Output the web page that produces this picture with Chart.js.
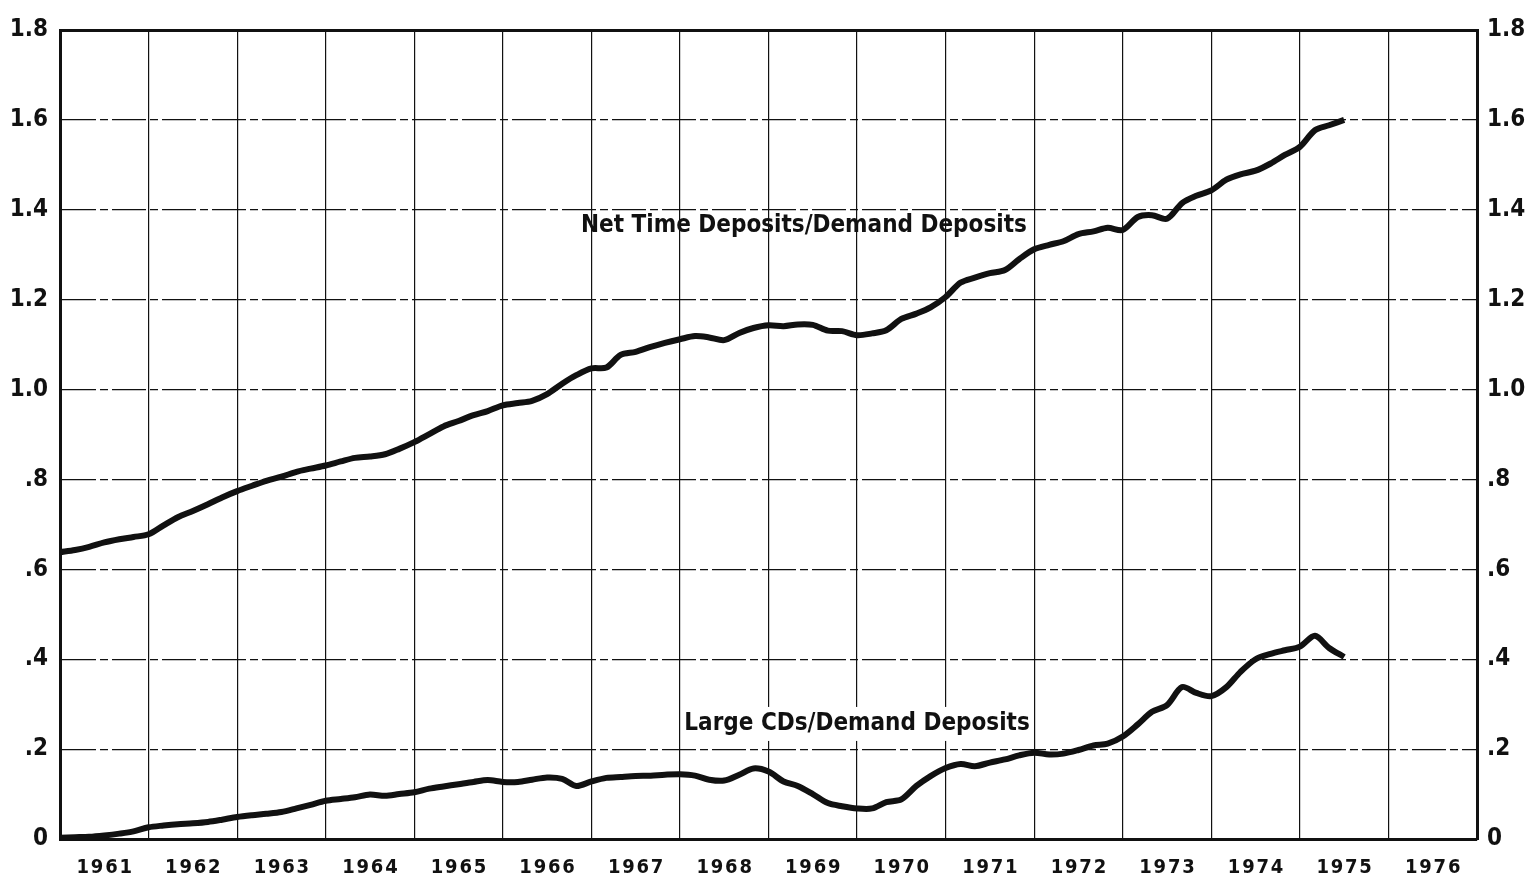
<!DOCTYPE html>
<html>
<head>
<meta charset="utf-8">
<script src="https://cdn.jsdelivr.net/npm/chart.js@4.4.1/dist/chart.umd.min.js"></script>
<style>
  body { margin: 0; background: #fff; }
  .container-grap { width: 1528px; height: 876px; position: relative; }
</style>
</head>
<body>
<div class="container-grap"><canvas id="myChart"></canvas></div>
<script>
// bi-monthly dates, decimal years
let dates = [
  1961, 1961.17, 1961.33, 1961.5, 1961.67, 1961.83,
  1962, 1962.17, 1962.33, 1962.5, 1962.67, 1962.83,
  1963, 1963.17, 1963.33, 1963.5, 1963.67, 1963.83,
  1964, 1964.17, 1964.33, 1964.5, 1964.67, 1964.83,
  1965, 1965.17, 1965.33, 1965.5, 1965.67, 1965.83,
  1966, 1966.17, 1966.33, 1966.5, 1966.67, 1966.83,
  1967, 1967.17, 1967.33, 1967.5, 1967.67, 1967.83,
  1968, 1968.17, 1968.33, 1968.5, 1968.67, 1968.83,
  1969, 1969.17, 1969.33, 1969.5, 1969.67, 1969.83,
  1970, 1970.17, 1970.33, 1970.5, 1970.67, 1970.83,
  1971, 1971.17, 1971.33, 1971.5, 1971.67, 1971.83,
  1972, 1972.17, 1972.33, 1972.5, 1972.67, 1972.83,
  1973, 1973.17, 1973.33, 1973.5, 1973.67, 1973.83,
  1974, 1974.17, 1974.33, 1974.5, 1974.67, 1974.83,
  1975, 1975.17, 1975.33, 1975.5
];

// net time deposits / demand deposits
let timeDeposits = [
  0.638, 0.643, 0.650, 0.660, 0.667, 0.672,
  0.678, 0.698, 0.716, 0.730, 0.745, 0.760,
  0.774, 0.786, 0.797, 0.806, 0.817, 0.824,
  0.831, 0.840, 0.848, 0.851, 0.856, 0.868,
  0.883, 0.901, 0.918, 0.930, 0.943, 0.952,
  0.965, 0.970, 0.975, 0.990, 1.013, 1.032,
  1.047, 1.049, 1.077, 1.084, 1.095, 1.104,
  1.112, 1.119, 1.116, 1.110, 1.126, 1.137,
  1.143, 1.141, 1.145, 1.144, 1.131, 1.130,
  1.121, 1.125, 1.132, 1.157, 1.169, 1.183,
  1.206, 1.238, 1.249, 1.259, 1.266, 1.290,
  1.312, 1.322, 1.330, 1.346, 1.352, 1.360,
  1.355, 1.384, 1.388, 1.380, 1.415, 1.431,
  1.443, 1.467, 1.479, 1.487, 1.503, 1.522,
  1.540, 1.577, 1.588, 1.600
];

// large CDs / demand deposits
let largeCDs = [
  0.003, 0.004, 0.005, 0.008, 0.012, 0.017,
  0.026, 0.030, 0.033, 0.035, 0.038, 0.043,
  0.049, 0.053, 0.056, 0.060, 0.068, 0.076,
  0.085, 0.089, 0.093, 0.099, 0.096, 0.100,
  0.104, 0.112, 0.117, 0.122, 0.127, 0.131,
  0.127, 0.127, 0.132, 0.137, 0.134, 0.118,
  0.128, 0.136, 0.138, 0.140, 0.141, 0.143,
  0.144, 0.141, 0.132, 0.130, 0.143, 0.157,
  0.150, 0.128, 0.118, 0.100, 0.080, 0.073,
  0.068, 0.068, 0.082, 0.088, 0.118, 0.140,
  0.158, 0.167, 0.162, 0.170, 0.177, 0.186,
  0.192, 0.188, 0.190, 0.198, 0.208, 0.212,
  0.228, 0.255, 0.283, 0.298, 0.338, 0.325,
  0.318, 0.338, 0.372, 0.400, 0.412, 0.420,
  0.428, 0.452, 0.425, 0.405
];

let yearLabels = [1961, 1962, 1963, 1964, 1965, 1966, 1967, 1968,
  1969, 1970, 1971, 1972, 1973, 1974, 1975, 1976];
let yTicks = [0, 0.2, 0.4, 0.6, 0.8, 1.0, 1.2, 1.4, 1.6, 1.8];

let seriesLabels = ["Net Time Deposits/Demand Deposits", "Large CDs/Demand Deposits"];

const FONT = "'DejaVu Sans Condensed', 'DejaVu Sans', sans-serif";
const INK = "#111";

function toPoints(values) {
  return values.map(function(v, i) {
    return { x: dates[i], y: v };
  });
}

function yLabel(v) {
  if (Math.abs(v) < 1e-6) return "0";
  if (v < 1) return v.toFixed(1).replace("0.", ".");
  return v.toFixed(1);
}

function isTop(c) {
  return c.tick && Math.abs(c.tick.value - 1.8) < 1e-6;
}

// series names written on the plot
let inlineLabels = {
  id: "inlineLabels",
  afterDatasetsDraw(chart) {
    let ctx = chart.ctx;
    let xs = chart.scales.x;
    let ys = chart.scales.y;
    ctx.save();
    ctx.font = "bold 24px " + FONT;
    ctx.textAlign = "center";
    ctx.textBaseline = "middle";
    ctx.fillStyle = INK;

    let x1 = xs.getPixelForValue(1969.4);
    let y1 = ys.getPixelForValue(1.364);
    ctx.fillText(seriesLabels[0], x1, y1);

    let x2 = xs.getPixelForValue(1970.0);
    let y2 = ys.getPixelForValue(0.256);
    let w = ctx.measureText(seriesLabels[1]).width;
    ctx.fillStyle = "#fff";
    ctx.fillRect(x2 - w / 2 - 3, y2 - 17, w + 6, 34);
    ctx.fillStyle = INK;
    ctx.fillText(seriesLabels[1], x2, y2);
    ctx.restore();
  }
};

let ctx = document.getElementById("myChart").getContext("2d");
let chart = new Chart(ctx, {
  type: "line",
  data: {
    datasets: [
      {
        label: seriesLabels[0],
        data: toPoints(timeDeposits),
        borderColor: INK,
        borderWidth: 6,
        pointRadius: 0,
        tension: 0.3,
        yAxisID: "y"
      },
      {
        label: seriesLabels[1],
        data: toPoints(largeCDs),
        borderColor: INK,
        borderWidth: 6,
        pointRadius: 0,
        tension: 0.3,
        yAxisID: "y"
      }
    ]
  },
  options: {
    responsive: true,
    maintainAspectRatio: false,
    animation: false,
    layout: { padding: { top: 30, left: 0, right: 0, bottom: 0 } },
    plugins: {
      legend: { display: false },
      tooltip: { enabled: false }
    },
    scales: {
      x: {
        type: "linear",
        min: 1961,
        max: 1977,
        afterBuildTicks: function(scale) {
          scale.ticks = yearLabels.map(function(y) { return { value: y + 0.5 }; });
        },
        afterFit: function(scale) { scale.height = 37; },
        grid: {
          offset: true,
          color: INK,
          lineWidth: 1.2,
          drawTicks: false
        },
        border: { display: true, color: INK, width: 3 },
        ticks: {
          padding: 17,
          color: INK,
          maxRotation: 0,
          autoSkip: false,
          font: { family: FONT, size: 20, weight: "bold" },
          callback: function(v) { return String(Math.floor(v)).split("").join("\u200A"); }
        }
      },
      y: {
        position: "left",
        min: 0,
        max: 1.8,
        afterBuildTicks: function(scale) {
          scale.ticks = yTicks.map(function(v) { return { value: v }; });
        },
        afterFit: function(scale) { scale.width = 60; },
        grid: {
          color: INK,
          lineWidth: function(c) { return isTop(c) ? 3 : 1.2; },
          drawTicks: false
        },
        border: {
          display: true,
          color: INK,
          width: 3,
          dash: function(c) { return (!c.tick || isTop(c)) ? [] : [34, 4, 8, 4]; }
        },
        ticks: {
          padding: 12,
          color: INK,
          font: { family: FONT, size: 24, weight: "bold" },
          callback: yLabel
        }
      },
      y2: {
        position: "right",
        min: 0,
        max: 1.8,
        afterBuildTicks: function(scale) {
          scale.ticks = yTicks.map(function(v) { return { value: v }; });
        },
        afterFit: function(scale) { scale.width = 51; },
        grid: { display: false, drawTicks: false },
        border: { display: true, color: INK, width: 3 },
        ticks: {
          padding: 10,
          color: INK,
          font: { family: FONT, size: 24, weight: "bold" },
          callback: yLabel
        }
      }
    }
  },
  plugins: [inlineLabels]
});
</script>
</body>
</html>
